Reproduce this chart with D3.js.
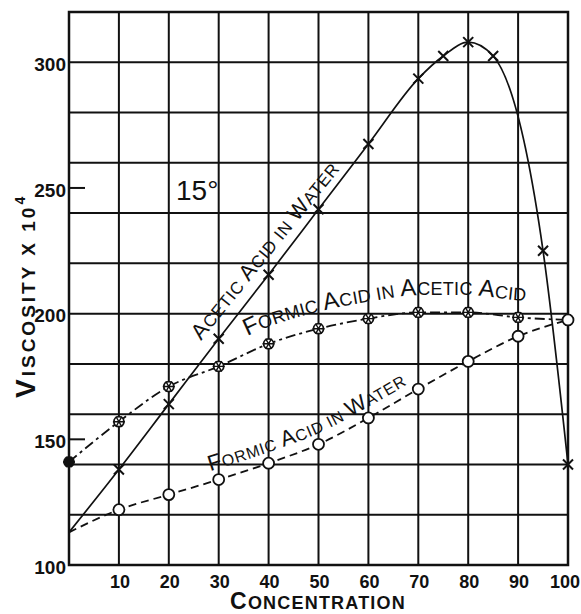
<!DOCTYPE html>
<html>
<head>
<meta charset="utf-8">
<script src="https://cdn.jsdelivr.net/npm/d3@7"></script>
<style>
  body { margin: 0; background: #fff; }
  svg { display: block; font-family: "Liberation Sans", Arial, sans-serif; }
</style>
</head>
<body>
<script>
(function() {

    const width = 581;
    const height = 614;
    const margin = {top: 12, right: 13, bottom: 49, left: 69};

    // values (viscosity x 10^4, 15 degrees)
    const concentration = [0, 10, 20, 30, 40, 50, 60, 70, 80, 90, 100];
    const aceticConc = [0, 10, 20, 30, 40, 50, 60, 70, 75, 80, 85, 95, 100];
    const aceticInWater = [113, 138, 164, 190, 215.5, 241.5, 267.5, 293.5, 302.5, 308, 302.5, 225, 140];
    const formicInAcetic = [141, 157, 171, 179, 188, 194, 198, 200.5, 200.5, 198.5, 197.5];
    const formicInWater = [113, 122, 128, 134, 140.5, 148, 158.5, 170, 181, 191, 197.5];
    const xTicks = [10, 20, 30, 40, 50, 60, 70, 80, 90, 100];
    const yTicks = [100, 150, 200, 250, 300];

    const ink = "#111";

    let svg = d3.select("body").append("svg")
        .attr("width", width)
        .attr("height", height);

    let x = d3.scaleLinear()
        .domain([0, 100])
        .range([margin.left, width - margin.right]);

    let y = d3.scaleLinear()
        .domain([100, 320])
        .range([height - margin.bottom, margin.top]);

    // grid
    svg.append("g").selectAll("line")
        .data(d3.range(10, 100, 10))
        .enter()
        .append("line")
        .attr("x1", d => x(d)).attr("x2", d => x(d))
        .attr("y1", y(100)).attr("y2", y(320))
        .style("stroke", ink).style("stroke-width", 2);

    svg.append("g").selectAll("line")
        .data(d3.range(120, 320, 20))
        .enter()
        .append("line")
        .attr("x1", x(0)).attr("x2", x(100))
        .attr("y1", d => y(d)).attr("y2", d => y(d))
        .style("stroke", ink).style("stroke-width", 2);

    svg.append("rect")
        .attr("x", x(0)).attr("y", y(320))
        .attr("width", x(100) - x(0))
        .attr("height", y(100) - y(320))
        .style("fill", "none")
        .style("stroke", ink).style("stroke-width", 2.5);

    // short ticks for the in-between labels
    svg.append("g").selectAll("line")
        .data(yTicks.filter(d => d % 20 !== 0))
        .enter()
        .append("line")
        .attr("x1", x(0)).attr("x2", x(0) + 16)
        .attr("y1", d => y(d)).attr("y2", d => y(d))
        .style("stroke", ink).style("stroke-width", 2);

    // tick labels
    svg.append("g").selectAll("text")
        .data(yTicks)
        .enter()
        .append("text")
        .attr("x", x(0) - 3)
        .attr("y", d => y(d) + 2)
        .attr("dy", "0.35em")
        .attr("text-anchor", "end")
        .attr("font-size", 19)
        .attr("font-weight", "bold")
        .style("fill", ink)
        .text(d => d);

    svg.append("g").selectAll("text")
        .data(xTicks)
        .enter()
        .append("text")
        .attr("y", y(100) + 23)
        .attr("text-anchor", "middle")
        .attr("font-size", 18)
        .attr("font-weight", "bold")
        .style("fill", ink)
        .text(d => d)
        .attr("x", function(d) {
            // keep the last label inside the page
            let half = this.getComputedTextLength() / 2;
            return Math.min(x(d) + 1, width - 1 - half);
        });

    // capitals big, lower case drawn as small capitals
    function smallCaps(sel, str, big, small) {
        let runs = [];
        for (const ch of str) {
            let isBig = ch !== ch.toLowerCase();
            let last = runs[runs.length - 1];
            if (last && last.big === isBig) last.t += ch;
            else runs.push({big: isBig, t: ch});
        }
        runs.forEach(r => {
            sel.append("tspan")
                .attr("font-size", r.big ? big : small)
                .text(r.t.toUpperCase());
        });
        return sel;
    }

    // axis titles
    let yTitle = svg.append("text")
        .attr("transform", "translate(35,398) rotate(-90)")
        .attr("font-weight", "bold")
        .attr("letter-spacing", 3)
        .style("fill", ink);
    smallCaps(yTitle, "Viscosity x 10", 28, 19);
    yTitle.append("tspan").attr("font-size", 14).attr("dy", -10).text("4");

    let xTitle = svg.append("text")
        .attr("x", 318)
        .attr("y", 609)
        .attr("text-anchor", "middle")
        .attr("font-weight", "bold")
        .attr("letter-spacing", 1.2)
        .style("fill", ink);
    smallCaps(xTitle, "Concentration", 23, 18);

    // curves
    function series(xs, vs) {
        return xs.map((c, i) => ({c: c, v: vs[i]}));
    }
    let acetic = series(aceticConc, aceticInWater);
    let formicAc = series(concentration, formicInAcetic);
    let formicW = series(concentration, formicInWater);

    let line = d3.line()
        .x(d => x(d.c))
        .y(d => y(d.v))
        .curve(d3.curveMonotoneX);

    svg.append("path")
        .attr("d", line(acetic))
        .style("fill", "none").style("stroke", ink).style("stroke-width", 1.7);

    svg.append("path")
        .attr("d", line(formicAc))
        .style("fill", "none").style("stroke", ink).style("stroke-width", 1.8)
        .style("stroke-dasharray", "10,4,3,4");

    svg.append("path")
        .attr("d", line(formicW))
        .style("fill", "none").style("stroke", ink).style("stroke-width", 1.8)
        .style("stroke-dasharray", "8,5");

    // markers
    svg.append("g").selectAll("path")
        .data(acetic.slice(1))
        .enter()
        .append("path")
        .attr("transform", d => "translate(" + x(d.c) + "," + y(d.v) + ")")
        .attr("d", "M-5,-5L5,5M-5,5L5,-5")
        .style("stroke", ink).style("stroke-width", 2);

    let starred = svg.append("g").selectAll("g")
        .data(formicAc)
        .enter()
        .append("g")
        .attr("transform", d => "translate(" + x(d.c) + "," + y(d.v) + ")");
    starred.append("circle")
        .attr("r", 5)
        .style("fill", (d, i) => i === 0 ? ink : "#fff")
        .style("stroke", ink).style("stroke-width", 1.8);
    starred.append("path")
        .attr("d", "M-6,0L6,0M-3,-5.2L3,5.2M-3,5.2L3,-5.2")
        .style("stroke", ink).style("stroke-width", 1.4);

    svg.append("g").selectAll("circle")
        .data(formicW.slice(1))
        .enter()
        .append("circle")
        .attr("cx", d => x(d.c))
        .attr("cy", d => y(d.v))
        .attr("r", 5.5)
        .style("fill", "#fff")
        .style("stroke", ink).style("stroke-width", 1.8);

    // labels that follow the curves
    function curveLabel(id, data, lift, fromConc, str, big, small, spacing) {
        let guide = svg.append("path")
            .attr("id", id)
            .attr("d", d3.line()
                .x(d => x(d.c))
                .y(d => y(d.v) - lift)
                .curve(d3.curveMonotoneX)(data))
            .style("fill", "none");
        let node = guide.node();
        let lo = 0, hi = node.getTotalLength();
        for (let k = 0; k < 30; k++) {
            let mid = (lo + hi) / 2;
            if (node.getPointAtLength(mid).x < x(fromConc)) lo = mid; else hi = mid;
        }
        let tp = svg.append("text")
            .attr("letter-spacing", spacing)
            .style("fill", ink)
            .append("textPath")
            .attr("href", "#" + id)
            .attr("startOffset", lo);
        smallCaps(tp, str, big, small);
    }

    curveLabel("fa-guide", formicAc, 17, 35.7, "Formic Acid in Acetic Acid", 24, 18, 0.3);
    curveLabel("fw-guide", formicW, 11, 28.3, "Formic Acid in Water", 22, 16, 0.8);

    let aceticLabel = svg.append("text")
        .attr("transform", "translate(201,341) rotate(-51)")
        .attr("letter-spacing", 0.8)
        .style("fill", ink);
    smallCaps(aceticLabel, "Acetic Acid in Water", 22, 17);

    svg.append("text")
        .attr("x", 176)
        .attr("y", 200)
        .attr("font-size", 28)
        .style("fill", ink)
        .text("15°");

})();
</script>
</body>
</html>
